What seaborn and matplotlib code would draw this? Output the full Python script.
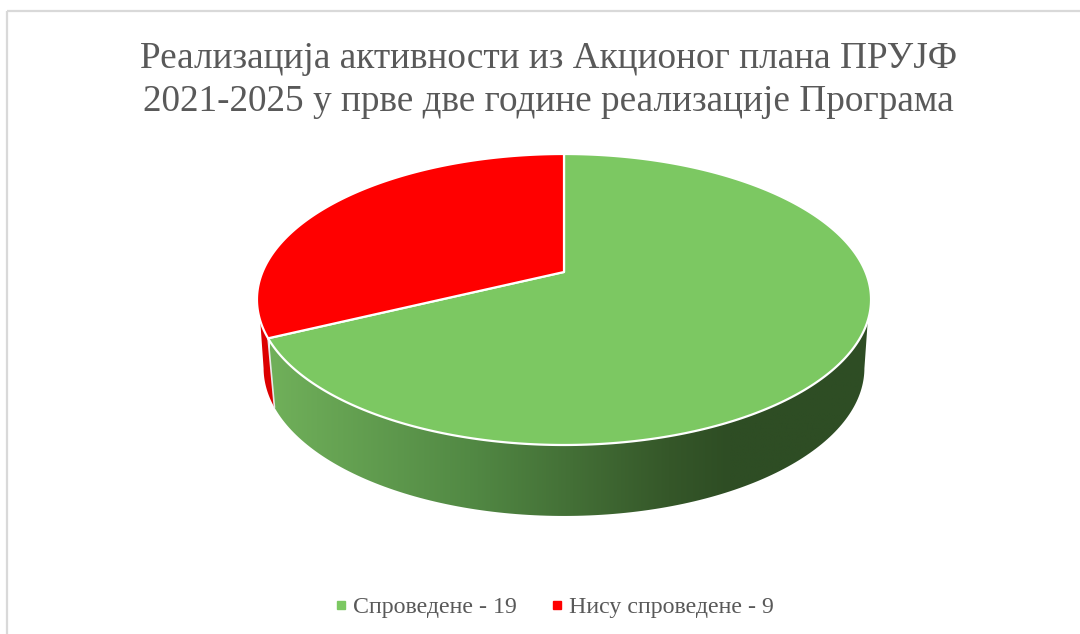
import matplotlib
matplotlib.use("Agg")
import matplotlib.pyplot as plt
import numpy as np
import seaborn as sns
from matplotlib.lines import Line2D
from matplotlib.patches import Polygon, Rectangle

title_lines = [
    "Реализација активности из Акционог плана ПРУЈФ",
    "2021-2025 у прве две године реализације Програма",
]
categories = ["Спроведене", "Нису спроведене"]
counts = [19, 9]
top_colors = ["#7CC862", "#FF0000"]

sns.set_theme(style="white")
plt.rcParams["font.family"] = ["Liberation Serif", "DejaVu Serif"]
TEXT = "#595959"

fig, ax = plt.subplots(figsize=(10.8, 6.34), dpi=100)
ax.set_position([0, 0, 1, 1])
ax.axis("off")


def rim(theta, cx, cy, bx, ay, k=-0.189):
    # perspective circle, theta runs clockwise from the top of the pie
    u, w = np.sin(theta), -np.cos(theta)
    d = 1 + k * w
    return np.column_stack([cx + bx * u / d, cy + ay * w / d])


def upper(theta):
    return rim(theta, 564, 272, 301.5, 140.3)


def lower(theta):
    return rim(theta, 564, 340, 295, 142.7)


fracs = np.array(counts) / sum(counts)
split = 2 * np.pi * fracs[0]

# side walls
red_wall = np.vstack([
    upper(np.linspace(split, np.radians(251), 20)),
    lower(np.linspace(np.radians(259), split, 30)),
])
ax.add_patch(Polygon(red_wall, closed=True, fc="#DC0000", ec="none", zorder=1))

green_wall = np.vstack([
    upper(np.linspace(np.radians(109), split, 150)),
    lower(np.linspace(split, np.radians(101), 150)),
])
wall_patch = Polygon(green_wall, closed=True, fc="none", ec="none", zorder=2)
ax.add_patch(wall_patch)
wall_cmap = matplotlib.colors.LinearSegmentedColormap.from_list(
    "wall",
    [(0.0, "#70B05A"), (0.33, "#528944"), (0.66, "#355729"), (0.76, "#2E4D24"), (1.0, "#2E4D24")],
)
grad = ax.imshow(
    np.linspace(0, 1, 256).reshape(1, -1), cmap=wall_cmap, aspect="auto",
    extent=[270, 875, 530, 300], zorder=2,
)
grad.set_clip_path(wall_patch)

# wall seam
seam = np.vstack([upper(np.array([split])), lower(np.array([split]))])
ax.plot(seam[:, 0], seam[:, 1], color="#E8E8E8", lw=1.2, zorder=3)

# top faces
start = 0.0
for frac, color in zip(fracs, top_colors):
    stop = start + 2 * np.pi * frac
    arc = upper(np.linspace(start, stop, 300))
    pts = np.vstack([[564, 272], arc])
    ax.add_patch(Polygon(pts, closed=True, fc=color, ec="white", lw=1.6, joinstyle="round", zorder=4))
    start = stop

# chart frame, cut off by the screenshot on the right and at the bottom
ax.add_patch(Rectangle((7, 11), 1100, 660, fc="none", ec="#D9D9D9", lw=1.6, zorder=0))

ax.set_xlim(0, 1080)
ax.set_ylim(634, 0)

ax.text(548.5, 59, title_lines[0], ha="center", va="center", fontsize=26.85, color=TEXT)
ax.text(548.5, 102, title_lines[1], ha="center", va="center", fontsize=26.85, color=TEXT)

handles = [
    Line2D([], [], ls="", marker="s", ms=5.2, mfc=c, mec=c, label=f"{name} - {n}")
    for name, n, c in zip(categories, counts, top_colors)
]
ax.legend(
    handles=handles, loc="center", bbox_to_anchor=(553 / 1080, 1 - 607 / 634), ncols=2,
    frameon=False, fontsize=17.2, labelcolor=TEXT, handlelength=0.7, handletextpad=0.14,
    columnspacing=1.34,
)

fig.savefig("out.png", dpi=100)
